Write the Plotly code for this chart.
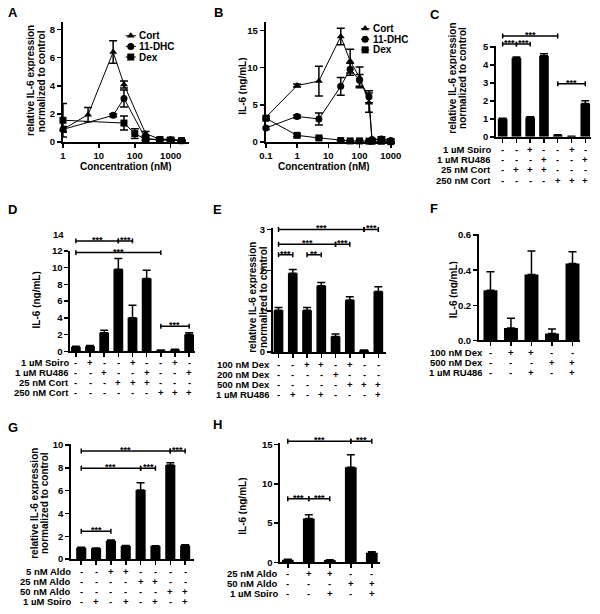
import plotly.graph_objects as go

W, H = 600, 614
FONT = "Liberation Sans"
BLACK = "#000000"

# ======================= DATA =======================
# Panel A : relative IL-6 expression vs concentration (nM)
A_cort_x = [1, 5, 25, 50, 200, 500, 1000, 2000]
A_cort_y = [0.9, 1.95, 6.4, 4.1, 0.6, 0.2, 0.2, 0.12]
A_cort_e = [0.15, 0.5, 0.8, 0.25, 0.15, 0.05, 0.08, 0.05]
A_dhc_x = [1, 25, 50, 200, 500, 1000, 2000]
A_dhc_y = [0.9, 1.9, 3.1, 0.25, 0.15, 0.15, 0.1]
A_dhc_e = [0.2, 0.1, 0.6, 0.1, 0.05, 0.05, 0.05]
A_dex_x = [1, 50, 100, 200, 500, 1000, 2000]
A_dex_y = [1.55, 1.35, 0.6, 0.2, 0.18, 0.15, 0.1]
A_dex_e = [1.2, 0.5, 0.35, 0.1, 0.05, 0.1, 0.05]

# Panel B : IL-6 (ng/mL) vs concentration (nM)
B_x = [0.1, 1, 5, 25, 50, 100, 200, 250, 500, 1000]
B_cort_y = [3.3, 7.6, 8.2, 14.2, 10.9, 8.7, 5.3, 0.35, 0.35, 0.25]
B_cort_e = [0.2, 0.2, 2.0, 1.1, 1.6, 1.4, 1.3, 0.1, 0.15, 0.15]
B_dhc_y = [1.9, 3.45, 3.1, 7.5, 9.8, 8.3, 6.1, 0.35, 0.4, 0.2]
B_dhc_e = [0.2, 0.2, 0.8, 1.2, 0.8, 0.8, 0.8, 0.1, 0.3, 0.2]
B_dex_y = [3.2, 0.9, 0.55, 0.2, 0.15, 0.15, 0.12, 0.1, 0.1, 0.05]
B_dex_e = [0.1, 0.2, 0.1, 0.05, 0.05, 0.05, 0.05, 0.05, 0.05, 0.05]

SERIES_NAMES = ["Cort", "11-DHC", "Dex"]
A_ticks = [1, 10, 100, 1000]
B_ticks = [0.1, 1, 10, 100, 1000]

# Panel C
C_vals = [1.0, 4.38, 1.07, 4.5, 0.07, 0.02, 1.85]
C_errs = [0.03, 0.06, 0.05, 0.12, 0.05, 0.01, 0.15]
C_labels = ["1 µM Spiro", "1 µM RU486", "25 nM Cort", "250 nM Cort"]
C_table = ["--+--+-", "---+--+", "-+++---", "----+++"]
C_brackets = [(0, 4, 5.6, "***"), (0, 1, 5.15, "***"), (1, 2, 5.15, "***"), (4, 6, 2.95, "***")]

# Panel D
D_vals = [0.5, 0.6, 2.2, 9.8, 4.0, 8.7, 0.1, 0.2, 2.0]
D_errs = [0.1, 0.1, 0.3, 1.3, 1.5, 1.0, 0.05, 0.05, 0.2]
D_labels = ["1 µM Spiro", "1 µM RU486", "25 nM Cort", "250 nM Cort"]
D_table = ["-+--+--+-", "--+--+--+", "---+++---", "------+++"]
D_brackets = [(0, 3, 13.2, "***"), (3, 4, 13.2, "***"), (0, 6, 11.8, "***"), (6, 8, 3.0, "***")]

# Panel E
E_vals = [1.02, 1.93, 1.02, 1.62, 0.38, 1.27, 0.04, 1.48]
E_errs = [0.07, 0.09, 0.07, 0.08, 0.06, 0.08, 0.01, 0.12]
E_labels = ["100 nM Dex", "200 nM Dex", "500 nM Dex", "1 µM RU486"]
E_table = ["--++-+--", "----+---", "-----+++", "-+-+---+"]
E_brackets = [(0, 6, 3.0, "***"), (6, 7, 3.0, "***"), (0, 4, 2.64, "***"), (4, 5, 2.64, "***"),
              (0, 1, 2.38, "***"), (2, 3, 2.38, "**")]

# Panel F
F_vals = [0.286, 0.071, 0.375, 0.039, 0.438]
F_errs = [0.105, 0.056, 0.135, 0.026, 0.067]
F_labels = ["100 nM Dex", "500 nM Dex", "1 µM RU486"]
F_table = ["-++--", "---++", "--+-+"]
F_brackets = []

# Panel G
G_vals = [1.0, 0.95, 1.6, 1.15, 6.05, 1.15, 8.25, 1.2]
G_errs = [0.03, 0.03, 0.08, 0.05, 0.65, 0.03, 0.2, 0.05]
G_labels = ["5 nM Aldo", "25 nM Aldo", "50 nM Aldo", "1 µM Spiro"]
G_table = ["--++----", "----++--", "------++", "-+-+-+-+"]
G_brackets = [(0, 6, 9.48, "***"), (6, 7, 9.48, "***"), (0, 4, 7.96, "***"), (4, 5, 7.96, "***"),
              (0, 2, 2.44, "***")]

# Panel H
H_vals = [0.35, 5.6, 0.3, 12.1, 1.25]
H_errs = [0.05, 0.45, 0.05, 1.6, 0.1]
H_labels = ["25 nM Aldo", "50 nM Aldo", "1 µM Spiro"]
H_table = ["-++--", "---++", "--+-+"]
H_brackets = [(0, 3, 15.4, "***"), (3, 4, 15.4, "***"), (0, 1, 8.1, "***"), (1, 2, 8.1, "***")]

# ======================= HELPERS =======================
fig = go.Figure()
layout = dict(width=W, height=H, margin=dict(l=0, r=0, t=0, b=0),
              paper_bgcolor="white", plot_bgcolor="rgba(0,0,0,0)", showlegend=False,
              font=dict(family=FONT, color=BLACK))
annotations = []
TABLE_FONT = 9.5
ROW_GAP = 10.3
LEG_GAP = 10.8


def ax_key(kind, n):
    return f"{kind}axis" if n == 1 else f"{kind}axis{n}"


def ax_ref(kind, n):
    return kind if n == 1 else f"{kind}{n}"


def dom_x(a, b):
    return [a / W, b / W]


def dom_y(top, bottom):
    return [1 - bottom / H, 1 - top / H]


def axis_style(**kw):
    d = dict(showline=True, linecolor=BLACK, linewidth=2, ticks="outside", ticklen=4,
             tickwidth=1.5, tickcolor=BLACK, showgrid=False, zeroline=False,
             tickfont=dict(family=FONT, size=9.5, color=BLACK, weight="bold"),
             fixedrange=True)
    d.update(kw)
    return d


def text(t, x, y, size=10, xanchor="center", yanchor="middle", xref="paper", yref="paper",
         angle=0, yshift=0, height=None):
    a = dict(text=t, x=x, y=y, xref=xref, yref=yref, showarrow=False,
             xanchor=xanchor, yanchor=yanchor, textangle=angle, yshift=yshift,
             borderpad=0, font=dict(family=FONT, size=size, color=BLACK, weight="bold"))
    if height is not None:
        a["height"] = height
    annotations.append(a)


def ptext(t, px, py, **kw):
    text(t, px / W, 1 - py / H, **kw)


# ======================= LINE PANELS (A, B) =======================
SYMBOLS = ["triangle-up", "circle", "square"]


def line_panel(p, series, g):
    xr, yr = ax_ref("x", p), ax_ref("y", p)
    for (xs, ys, es, sym) in series:
        fig.add_trace(go.Scatter(
            x=xs, y=ys, mode="lines+markers", cliponaxis=False,
            line=dict(color=BLACK, width=1),
            marker=dict(symbol=sym, size=7, color=BLACK),
            error_y=dict(type="data", array=es, color=BLACK, thickness=1.5, width=4),
            xaxis=xr, yaxis=yr, hoverinfo="skip"))
    layout[ax_key("x", p)] = axis_style(
        type="log", domain=dom_x(*g["xpx"]), range=g["xrange"], tickmode="array",
        tickvals=g["xticks"], ticktext=[("%g" % v) for v in g["xticks"]], anchor=yr)
    layout[ax_key("y", p)] = axis_style(
        domain=dom_y(*g["ypx"]), range=g["yrange"], tickmode="array",
        tickvals=g["yticks"], ticktext=[str(v) for v in g["yticks"]], anchor=xr)
    for (t, px) in g["ytitle"]:
        ptext(t, px, g["ytitle_y"], angle=-90, height=9)
    ptext("Concentration (nM)", g["xtitle"][0], g["xtitle"][1], height=10)
    ptext(g["letter"][0], g["letter"][1], g["letter"][2], size=13)
    # legend keys drawn on a hidden pixel overlay
    lg = g["legend"]
    for k, name in enumerate(SERIES_NAMES):
        yy = lg["top"] + k * LEG_GAP
        fig.add_trace(go.Scatter(x=list(lg["line"]), y=[yy, yy], mode="lines",
                                 line=dict(color=BLACK, width=1), xaxis="x17", yaxis="y17",
                                 hoverinfo="skip"))
        fig.add_trace(go.Scatter(x=[lg["mark"]], y=[yy], mode="markers",
                                 marker=dict(symbol=SYMBOLS[k], size=7, color=BLACK),
                                 xaxis="x17", yaxis="y17", hoverinfo="skip"))
        ptext(name, lg["text"], yy, size=10, xanchor="left", height=9)


line_panel(1, [(A_cort_x, A_cort_y, A_cort_e, SYMBOLS[0]),
               (A_dhc_x, A_dhc_y, A_dhc_e, SYMBOLS[1]),
               (A_dex_x, A_dex_y, A_dex_e, SYMBOLS[2])],
           dict(xpx=(57.3, 186.7), xrange=[0, 3.52], xticks=A_ticks,
                ypx=(17.3, 139.3), yrange=[0, 8.54], yticks=[0, 2, 4, 6, 8],
                ytitle=[("relative IL-6 expression", 24.8), ("normalized to control", 35.3)],
                ytitle_y=77, xtitle=(121.7, 163.5), letter=("A", 6, 8),
                legend=dict(line=(121.5, 132), mark=126.7, text=134, top=31.3)))

line_panel(2, [(B_x, B_cort_y, B_cort_e, SYMBOLS[0]),
               (B_x, B_dhc_y, B_dhc_e, SYMBOLS[1]),
               (B_x, B_dex_y, B_dex_e, SYMBOLS[2])],
           dict(xpx=(265, 396.8), xrange=[-1, 3.12], xticks=B_ticks,
                ypx=(17.3, 139.3), yrange=[0, 16.15], yticks=[0, 5, 10, 15],
                ytitle=[("IL-6 (ng/mL)", 241.7)], ytitle_y=83,
                xtitle=(325, 163.5), letter=("B", 217, 8),
                legend=dict(line=(362.5, 371), mark=366.7, text=373.5, top=24)))

# ======================= BAR PANELS (C - H) =======================


def bar_panel(p, vals, errs, labels, table, brackets, yticks, yticktext, g):
    xr, yr, br = ax_ref("x", p), ax_ref("y", p), ax_ref("y", p + 8)
    n = len(vals)
    pos = list(range(n))
    fig.add_trace(go.Bar(
        x=pos, y=vals, width=g["bw"], marker=dict(color=BLACK, line=dict(width=0)),
        error_y=dict(type="data", array=errs, arrayminus=[0] * n, symmetric=False,
                     color=BLACK, thickness=1.5, width=4),
        xaxis=xr, yaxis=yr, hoverinfo="skip"))
    r0 = (g["yax"] - g["c0"]) / g["sp"]
    r1 = (g["xend"] - g["c0"]) / g["sp"]
    layout[ax_key("x", p)] = axis_style(
        type="linear", domain=dom_x(g["yax"], g["xend"]), range=[r0, r1], tickmode="array",
        tickvals=pos, ticktext=[""] * n, anchor=yr)
    top_px = g["zero"] - g["ytop"] * g["ppu"]
    layout[ax_key("y", p)] = axis_style(
        domain=dom_y(top_px, g["zero"]), range=[0, g["ytop"]], tickmode="array",
        tickvals=yticks, ticktext=yticktext, anchor=xr)
    top_val = max([b[2] for b in brackets] + [g.get("extra_top", 0)])
    brtop = g["zero"] - (top_val * g["ppu"] + 6)
    layout[ax_key("y", p + 8)] = dict(domain=dom_y(brtop, g["zero"]),
                                      range=[0, (g["zero"] - brtop) / g["ppu"]],
                                      visible=False, anchor=xr, fixedrange=True)
    if brackets:
        h = 2.5 / g["ppu"]
        bx, by = [], []
        for (i, j, lvl, txt) in brackets:
            bx += [i, i, None, i, j, None, j, j, None]
            by += [lvl - h, lvl + h, None, lvl, lvl, None, lvl - h, lvl + h, None]
            text(txt, (i + j) / 2, lvl, size=9, xref=xr, yref=br, yanchor="bottom",
                 yshift=-3, height=7)
        fig.add_trace(go.Scatter(x=bx, y=by, mode="lines", line=dict(color=BLACK, width=1.5),
                                 xaxis=xr, yaxis=br, hoverinfo="skip", cliponaxis=False))
    for r, (lab, row) in enumerate(zip(labels, table)):
        ypx = g["row0"] + r * ROW_GAP
        ptext(lab, g["lab_end"], ypx, size=TABLE_FONT, xanchor="right", height=8)
        for i, s in enumerate(row):
            text(s, i, 1 - ypx / H, size=TABLE_FONT, xref=xr, height=8)
    for (t, px) in g["ytitle"]:
        ptext(t, px, g["ytitle_y"], angle=-90, height=9)
    ptext(g["letter"][0], g["letter"][1], g["letter"][2], size=13)
    for (t, val) in g.get("extra_labels", []):
        text(t, (g["yax"] - 6) / W, val, size=9.5, xanchor="right", yref=br)


bar_panel(3, C_vals, C_errs, C_labels, C_table, C_brackets,
          [0, 1, 2, 3, 4, 5], ["0", "1", "2", "3", "4", "5"],
          dict(yax=501, c0=507.5, sp=14.1, xend=597.5, zero=134, ppu=18.3, ytop=5.03, bw=0.7,
               row0=146.5, lab_end=497,
               ytitle=[("relative IL-6 expression", 456.5), ("normalized to control", 467)],
               ytitle_y=74, letter=("C", 438, 10)))

bar_panel(4, D_vals, D_errs, D_labels, D_table, D_brackets,
          [0, 2, 4, 6, 8, 10, 12], ["0", "2", "4", "6", "8", "10", "12"],
          dict(yax=65, c0=70.5, sp=14.5, xend=192, zero=352, ppu=8.5, ytop=12.05, bw=0.69,
               row0=363, lab_end=64,
               ytitle=[("IL-6 (ng/mL)", 30)], ytitle_y=300, letter=("D", 6, 208),
               extra_top=14, extra_labels=[("14", 14)]))

bar_panel(5, E_vals, E_errs, E_labels, E_table, E_brackets,
          [0, 1, 2, 3], ["0", "1", "2", "3"],
          dict(yax=272.3, c0=278, sp=14.6, xend=388.5, zero=352.7, ppu=41.5, ytop=3.03, bw=0.68,
               row0=365, lab_end=270,
               ytitle=[("relative IL-6 expression", 251.5), ("normalized to control", 262)],
               ytitle_y=297, letter=("E", 216, 208)))

bar_panel(6, F_vals, F_errs, F_labels, F_table, F_brackets,
          [0, 0.2, 0.4, 0.6], ["0.0", "0.2", "0.4", "0.6"],
          dict(yax=483.3, c0=495, sp=21, xend=587, zero=341, ppu=178.5, ytop=0.605, bw=0.68,
               row0=352.5, lab_end=488,
               ytitle=[("IL-6 (ng/mL)", 456.7)], ytitle_y=290, letter=("F", 437, 207)))

bar_panel(7, G_vals, G_errs, G_labels, G_table, G_brackets,
          [0, 2, 4, 6, 8, 10], ["0", "2", "4", "6", "8", "10"],
          dict(yax=65.7, c0=76, sp=15.2, xend=191.7, zero=563.3, ppu=11.6, ytop=10.05, bw=0.68,
               row0=575, lab_end=67,
               ytitle=[("relative IL-6 expression", 28), ("normalized to control", 38.5)],
               ytitle_y=506.7, letter=("G", 6, 430)))

bar_panel(8, H_vals, H_errs, H_labels, H_table, H_brackets,
          [0, 5, 10, 15], ["0", "5", "10", "15"],
          dict(yax=280, c0=287.5, sp=21.5, xend=381.7, zero=566.7, ppu=8.0, ytop=15.2, bw=0.56,
               row0=577.5, lab_end=279,
               ytitle=[("IL-6 (ng/mL)", 241.7)], ytitle_y=510, letter=("H", 216, 426)))

# hidden pixel overlay used only for the legend keys of panels A and B
layout["xaxis17"] = dict(domain=[0, 1], range=[0, W], visible=False, fixedrange=True, anchor="y17")
layout["yaxis17"] = dict(domain=[0, 1], range=[H, 0], visible=False, fixedrange=True, anchor="x17")

layout["annotations"] = annotations
fig.update_layout(**layout)
fig.write_html("out.html", config={"displayModeBar": False, "staticPlot": True},
               post_script="document.body.style.margin='0';document.body.style.overflow='hidden';")
